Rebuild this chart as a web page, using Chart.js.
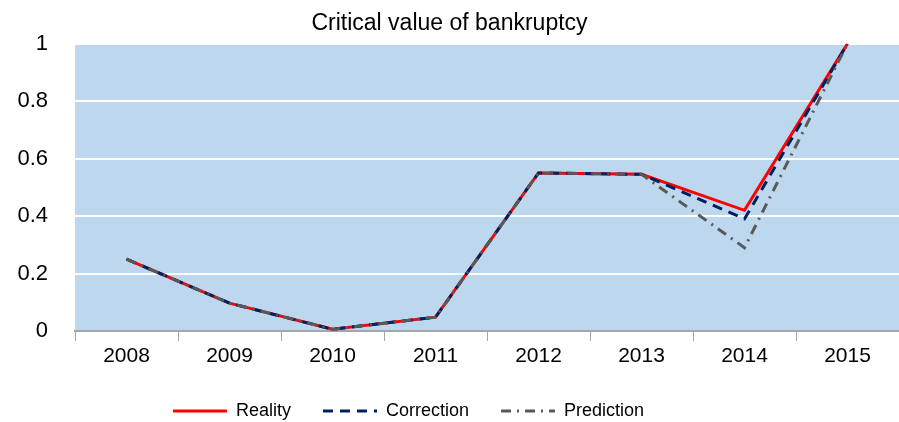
<!DOCTYPE html>
<html>
<head>
<meta charset="utf-8">
<script src="https://cdn.jsdelivr.net/npm/chart.js@4"></script>
<style>
  html, body { margin: 0; padding: 0; background: #fff; }
  #wrap { width: 899px; height: 422px; }
</style>
</head>
<body>
<div id="wrap"><canvas id="chart"></canvas></div>
<script>
// --- DATA ---
const years = ['2008', '2009', '2010', '2011', '2012', '2013', '2014', '2015'];
const reality = [0.25, 0.097, 0.006, 0.048, 0.55, 0.545, 0.42, 1.0];
const correction = [0.25, 0.097, 0.006, 0.048, 0.55, 0.545, 0.39, 1.0];
const prediction = [0.25, 0.097, 0.006, 0.048, 0.55, 0.545, 0.29, 1.0];

// blue plot background
const plotBg = {
    id: 'plotBg',
    beforeDraw(chart) {
        const { ctx, chartArea: a } = chart;
        ctx.save();
        ctx.fillStyle = '#BDD7EE';
        ctx.fillRect(a.left, a.top, a.right - a.left, a.bottom - a.top);
        ctx.restore();
    }
};

// nudge legend a bit left / down like the original
const legendShift = {
    id: 'legendShift',
    afterLayout(chart) {
        const lg = chart.legend;
        lg.right -= 82;
        lg.top += 8;
        lg.bottom += 8;
    }
};

const fam = "'Liberation Sans', Arial, sans-serif";

new Chart(document.getElementById('chart').getContext('2d'), {
    type: 'line',
    data: {
        labels: years,
        datasets: [
            {
                label: 'Reality',
                data: reality,
                borderColor: '#FF0000',
                borderWidth: 3,
                pointRadius: 0,
                pointStyle: 'line',
                tension: 0,
                order: 3
            },
            {
                label: 'Correction',
                data: correction,
                borderColor: '#002060',
                borderWidth: 3,
                borderDash: [10, 7],
                pointRadius: 0,
                pointStyle: 'line',
                tension: 0,
                order: 2
            },
            {
                label: 'Prediction',
                data: prediction,
                borderColor: '#595959',
                borderWidth: 3,
                borderDash: [10, 6, 2, 6],
                pointRadius: 0,
                pointStyle: 'line',
                tension: 0,
                order: 1
            }
        ]
    },
    options: {
        responsive: true,
        maintainAspectRatio: false,
        animation: false,
        layout: { padding: 0 },
        plugins: {
            title: {
                display: true,
                text: 'Critical value of bankruptcy',
                color: '#000',
                font: { family: fam, size: 23, weight: 'normal' },
                padding: { top: 10, bottom: 6 }
            },
            legend: {
                position: 'bottom',
                labels: {
                    color: '#000',
                    font: { family: fam, size: 18 },
                    usePointStyle: true,
                    pointStyleWidth: 54,
                    padding: 32,
                    sort: (a, b) => a.datasetIndex - b.datasetIndex,
                    generateLabels(chart) {
                        const items = Chart.defaults.plugins.legend.labels.generateLabels(chart);
                        items.forEach(it => {
                            const ds = chart.data.datasets[it.datasetIndex];
                            it.lineDash = ds.borderDash || [];
                            it.strokeStyle = ds.borderColor;
                            it.lineWidth = 3;
                        });
                        return items;
                    }
                }
            },
            tooltip: { enabled: false }
        },
        scales: {
            x: {
                offset: true,
                grid: {
                    offset: true,
                    drawOnChartArea: false,
                    drawTicks: true,
                    tickLength: 10,
                    tickColor: '#A6A6A6'
                },
                border: { display: true, color: '#A6A6A6', width: 2 },
                ticks: { color: '#000', font: { family: fam, size: 21 }, padding: 3, maxRotation: 0 },
                afterFit(scale) { scale.height = 31; }
            },
            y: {
                min: 0,
                max: 1,
                ticks: {
                    stepSize: 0.2,
                    color: '#000',
                    font: { family: fam, size: 22 },
                    padding: 27,
                    callback: v => String(+v.toFixed(1))
                },
                grid: { color: '#FFFFFF', lineWidth: 2, drawTicks: false },
                border: { display: false },
                afterFit(scale) { scale.width = 75; }
            }
        }
    },
    plugins: [plotBg, legendShift]
});
</script>
</body>
</html>
